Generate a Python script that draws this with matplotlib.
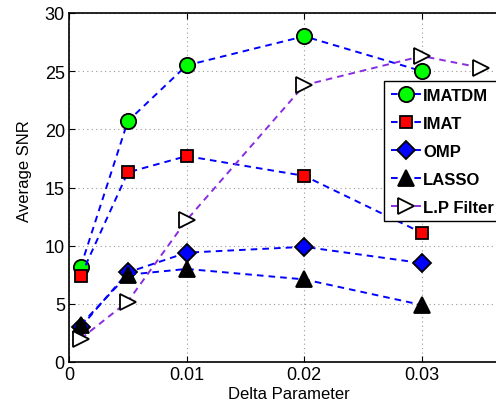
import matplotlib
matplotlib.use("Agg")
import matplotlib.pyplot as plt

# ==========================================================
# DATA
# ==========================================================

delta = [0.001, 0.005, 0.01, 0.02, 0.03]
delta_lp = [0.001, 0.005, 0.01, 0.02, 0.03, 0.035]

snr_imatdm = [8.2, 20.7, 25.5, 28.0, 25.0]
snr_imat = [7.4, 16.3, 17.7, 16.0, 11.1]
snr_omp = [3.0, 7.7, 9.4, 9.9, 8.5]
snr_lasso = [3.2, 7.5, 8.0, 7.1, 4.9]
snr_lp = [2.0, 5.2, 12.2, 23.8, 26.3, 25.3]

y_ticks = [0, 5, 10, 15, 20, 25, 30]
x_ticks = [0, 0.01, 0.02, 0.03]
x_tick_labels = ["0", "0.01", "0.02", "0.03"]

# ==========================================================
# PLOT
# ==========================================================

plt.rcParams["font.family"] = ["Liberation Sans", "DejaVu Sans"]

fig = plt.figure(figsize=(4.96, 4.06), dpi=100)
ax = fig.add_axes([69 / 496, 1 - 363 / 406, 440 / 496, 349 / 406])

blue = "#0000ff"
purple = "#8a2be2"
dash = (0, (3.4, 2.6))

ax.plot(delta, snr_imatdm, color=blue, linestyle=dash, linewidth=1.4,
        marker="o", markersize=11, markerfacecolor="#00ff00",
        markeredgecolor="black", markeredgewidth=1.3, label="IMATDM")
ax.plot(delta, snr_imat, color=blue, linestyle=dash, linewidth=1.4,
        marker="s", markersize=9, markerfacecolor="#ff0000",
        markeredgecolor="black", markeredgewidth=1.3, label="IMAT")
ax.plot(delta, snr_omp, color=blue, linestyle=dash, linewidth=1.4,
        marker="D", markersize=9, markerfacecolor="#0000ff",
        markeredgecolor="black", markeredgewidth=1.3, label="OMP")
ax.plot(delta, snr_lasso, color=blue, linestyle=dash, linewidth=1.4,
        marker="^", markersize=12, markerfacecolor="black",
        markeredgecolor="black", markeredgewidth=1.3, label="LASSO")
ax.plot(delta_lp, snr_lp, color=purple, linestyle=dash, linewidth=1.4,
        marker=">", markersize=12, markerfacecolor="white",
        markeredgecolor="black", markeredgewidth=1.3, label="L.P Filter")

ax.set_xlim(0, 0.0374)
ax.set_ylim(0, 30)
ax.set_xticks(x_ticks)
ax.set_xticklabels(x_tick_labels)
ax.set_yticks(y_ticks)
ax.tick_params(direction="in", labelsize=13, length=4, width=0.8,
               top=True, right=True, pad=3)

ax.grid(True, linestyle=(0, (1, 3)), color="#999999", linewidth=0.8)
for side in ax.spines.values():
    side.set_linewidth(1.2)

ax.set_xlabel("Delta Parameter", fontsize=12, labelpad=2)
ax.set_ylabel("Average SNR", fontsize=12)
ax.yaxis.set_label_coords(-0.085, 0.55)

ax.legend(loc="upper left", bbox_to_anchor=(384 / 496, 1 - 82 / 406),
          bbox_transform=fig.transFigure, prop={"weight": "bold", "size": 12},
          frameon=True, fancybox=False, edgecolor="black", framealpha=1,
          handlelength=1.8, handletextpad=0.15, labelspacing=0.78,
          borderpad=0.4, borderaxespad=0)

fig.savefig("out.png", dpi=100)
